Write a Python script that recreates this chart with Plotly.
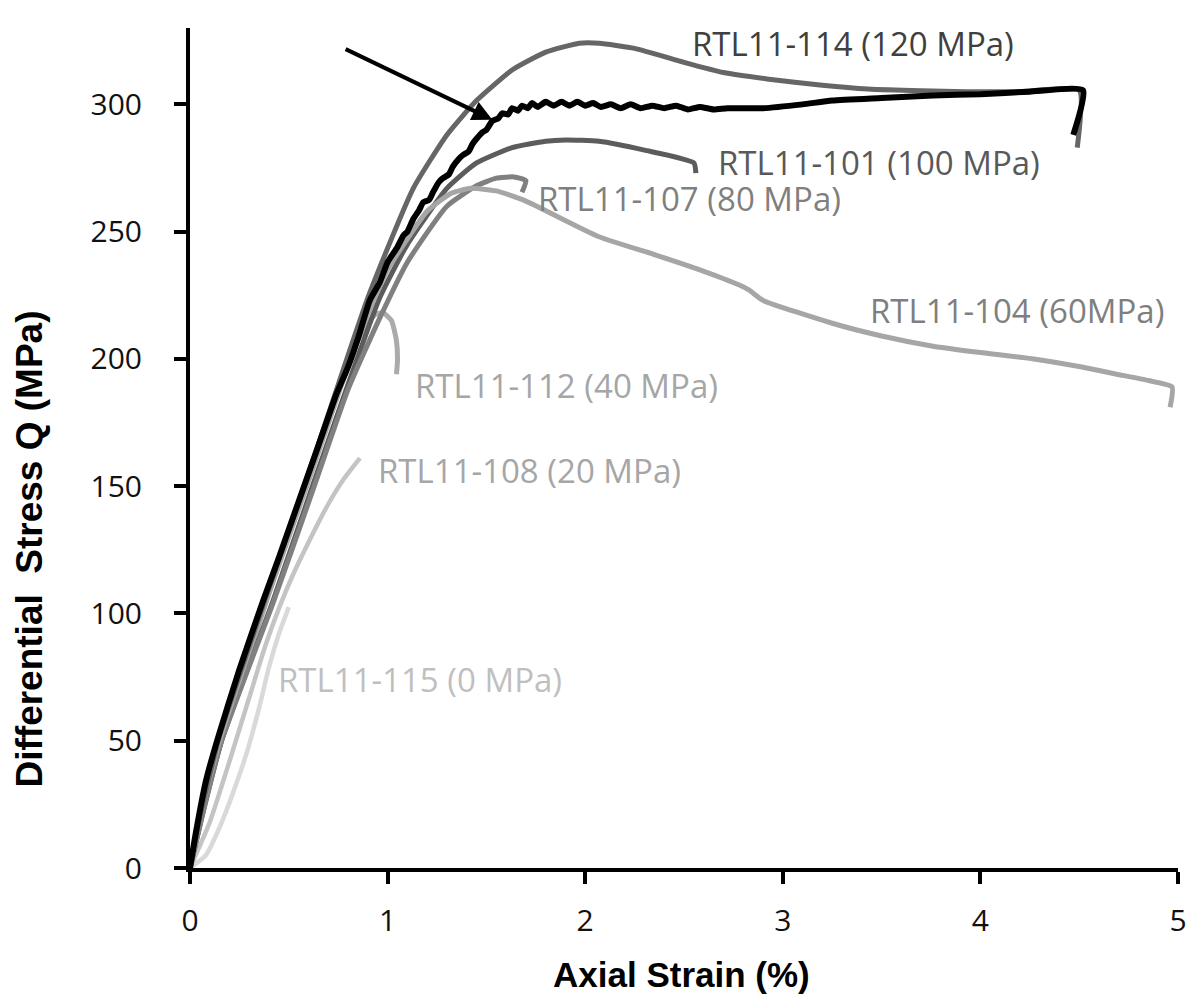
import plotly.graph_objects as go

# ---------------- data ----------------
x_115 = [0, 0.08, 0.15, 0.22, 0.29, 0.35, 0.40, 0.45, 0.50]
y_115 = [0, 5, 16, 30, 46, 63, 79, 92, 102.5]

x_108 = [0, 0.10, 0.20, 0.30, 0.38, 0.45, 0.52, 0.60, 0.70, 0.78, 0.86]
y_108 = [0, 18, 42, 67, 87, 102, 115, 128, 143, 153, 161]

x_112 = [0, 0.05, 0.15, 0.40, 0.60, 0.80, 0.86, 0.90, 0.94, 0.98, 1.02, 1.045, 1.05, 1.045]
y_112 = [0, 19, 48, 108, 155, 198, 209, 214, 217.5, 218, 215, 207, 199.5, 194]

x_101 = [0, 0.06, 0.16, 0.42, 0.62, 0.80, 0.96, 1.10, 1.30, 1.45, 1.63, 1.80, 1.90, 2.07, 2.30, 2.55, 2.56]
y_101 = [0, 20, 50, 105, 150, 190, 224, 245, 267, 277, 283, 285.5, 286, 285.5, 282, 277, 273]

x_107 = [0, 0.06, 0.16, 0.42, 0.62, 0.80, 0.96, 1.10, 1.30, 1.45, 1.55, 1.64, 1.70, 1.68]
y_107 = [0, 20, 50, 104, 148, 188, 216, 238, 260, 268, 271, 271.5, 270, 265.5]

x_104 = [0, 0.05, 0.15, 0.40, 0.60, 0.85, 1.00, 1.20, 1.32, 1.42, 1.55, 1.70, 2.07, 2.35, 2.58, 2.78, 2.83, 2.90,
         3.25, 3.50, 3.76, 4.00, 4.27, 4.50, 4.69, 4.85, 4.97, 4.96]
y_104 = [0, 20, 50, 108, 152, 208, 235, 258, 265, 267, 266, 262, 248, 241, 235, 229, 227, 223,
         214, 209, 205, 202.5, 200, 197, 194, 191.5, 189, 181]

x_114 = [0, 0.05, 0.15, 0.40, 0.60, 0.90, 1.13, 1.30, 1.45, 1.63, 1.80, 1.97, 2.07, 2.25, 2.50, 2.70, 2.92,
         3.20, 3.43, 3.70, 3.93, 4.20, 4.50, 4.49]
y_114 = [0, 20, 52, 110, 155, 224, 267, 288, 301.5, 313.5, 320.5, 324, 324, 322, 316.5, 312.5, 310,
         307.5, 306, 305.3, 305, 305, 305.5, 283]

x_106 = [0, 0.03, 0.08, 0.137, 0.25, 0.37, 0.45, 0.55, 0.65, 0.74, 0.79, 0.81, 0.85, 0.91, 0.96, 1.00,
         1.05, 1.08, 1.10, 1.13, 1.16, 1.18, 1.21, 1.23, 1.26, 1.28, 1.31, 1.33, 1.36, 1.38, 1.41, 1.43,
         1.45, 1.48, 1.50, 1.53, 1.56, 1.58, 1.61, 1.63, 1.66, 1.68, 1.71, 1.73, 1.76, 1.80, 1.84, 1.88,
         1.92, 1.96, 2.00, 2.04, 2.08, 2.13, 2.18, 2.23, 2.28, 2.34, 2.40, 2.46, 2.52, 2.58, 2.65, 2.72,
         2.90, 3.10, 3.25, 3.50, 3.76, 4.00, 4.25, 4.52, 4.47]
y_106 = [0, 14, 34, 50, 78, 105, 122, 144, 166, 186, 195, 199, 208, 223, 230, 238,
         244, 248.5, 250, 255, 258.5, 261.5, 262.5, 265.5, 269.5, 271, 272.5, 275.5, 278.5, 280, 281.5, 284.5,
         286.5, 289, 290, 293.5, 294.5, 296.5, 296, 298.5, 297.5, 299.5, 298.5, 300.5, 299, 301, 299.5, 301,
         299.5, 301, 299.5, 300.5, 299, 300, 298.5, 300, 298.5, 299.5, 298.5, 299.5, 298, 299, 298, 298.5,
         298.5, 300, 301.5, 302.5, 303.5, 304, 305, 305.5, 288]

series_order = ["RTL11-115", "RTL11-108", "RTL11-112", "RTL11-101", "RTL11-107", "RTL11-104", "RTL11-114", "RTL11-106"]
series_x = [x_115, x_108, x_112, x_101, x_107, x_104, x_114, x_106]
series_y = [y_115, y_108, y_112, y_101, y_107, y_104, y_114, y_106]
line_colors = ["#d9d9d9", "#c4c4c4", "#ababab", "#5c5c5c", "#808080", "#a6a6a6", "#666666", "#000000"]
line_widths = [4.5, 4.5, 5, 5, 5, 5, 5, 6]

label_texts = ["RTL11-106 (140 MPa)", "RTL11-114 (120 MPa)", "RTL11-101 (100 MPa)", "RTL11-107 (80 MPa)",
               "RTL11-104 (60MPa)", "RTL11-112 (40 MPa)", "RTL11-108 (20 MPa)", "RTL11-115 (0 MPa)"]
label_x = [0.080, 2.53, 2.66, 1.75, 3.43, 1.13, 0.94, 0.437]
label_y = [332, 324, 277, 263, 219, 189.5, 156, 74]
label_colors = ["#1a1a1a", "#404040", "#595959", "#7f7f7f", "#7f7f7f", "#a6a6a6", "#a6a6a6", "#bfbfbf"]

x_ticks = [0, 1, 2, 3, 4, 5]
y_ticks = [0, 50, 100, 150, 200, 250, 300]

FONT = "Open Sans"
TITLE_FONT = "Liberation Sans"

fig = go.Figure()
for name, xs, ys, c, w in zip(series_order, series_x, series_y, line_colors, line_widths):
    fig.add_trace(go.Scatter(x=xs, y=ys, mode="lines", name=name,
                             line=dict(color=c, width=w, shape="spline", smoothing=0.5),
                             showlegend=False, hoverinfo="skip"))

for t, lx, ly, c in zip(label_texts, label_x, label_y, label_colors):
    fig.add_annotation(x=lx, y=ly, xref="x", yref="y", text=t, showarrow=False,
                       xanchor="left", yanchor="middle",
                       font=dict(family=FONT, size=33, color=c))

# arrow pointing to RTL11-106 curve
fig.add_annotation(x=1.53, y=294, ax=0.78, ay=322, xref="x", yref="y", axref="x", ayref="y",
                   text="", showarrow=True, arrowhead=2, arrowsize=1.0, arrowwidth=4,
                   arrowcolor="#000000")

# axis titles
fig.add_annotation(x=(681 - 190) / 988, y=(868 - 974) / 840, xref="paper", yref="paper",
                   text="<b>Axial Strain (%)</b>", showarrow=False, xanchor="center", yanchor="middle",
                   font=dict(family=TITLE_FONT, size=35, color="#000000"))
fig.add_annotation(x=(29 - 190) / 988, y=(868 - 549.5) / 840, xref="paper", yref="paper",
                   text="<b>Differential  Stress Q (MPa)</b>", showarrow=False, textangle=-90,
                   xanchor="center", yanchor="middle",
                   font=dict(family=TITLE_FONT, size=37, color="#000000"))

axis_common = dict(showgrid=False, zeroline=False, showline=True, linecolor="#000000", linewidth=4,
                   ticks="outside", ticklen=12, tickwidth=3.5, tickcolor="#000000",
                   tickfont=dict(family=FONT, size=30, color="#111111"))

fig.update_xaxes(range=[0, 5], tickvals=x_ticks, ticklabelstandoff=11, **axis_common)
fig.update_yaxes(range=[0, 330], tickvals=y_ticks, ticklabelstandoff=26, **axis_common)

fig.update_layout(width=1198, height=1000, margin=dict(l=190, r=20, t=28, b=132),
                  plot_bgcolor="#ffffff", paper_bgcolor="#ffffff", showlegend=False)

fig.write_html("out.html")
